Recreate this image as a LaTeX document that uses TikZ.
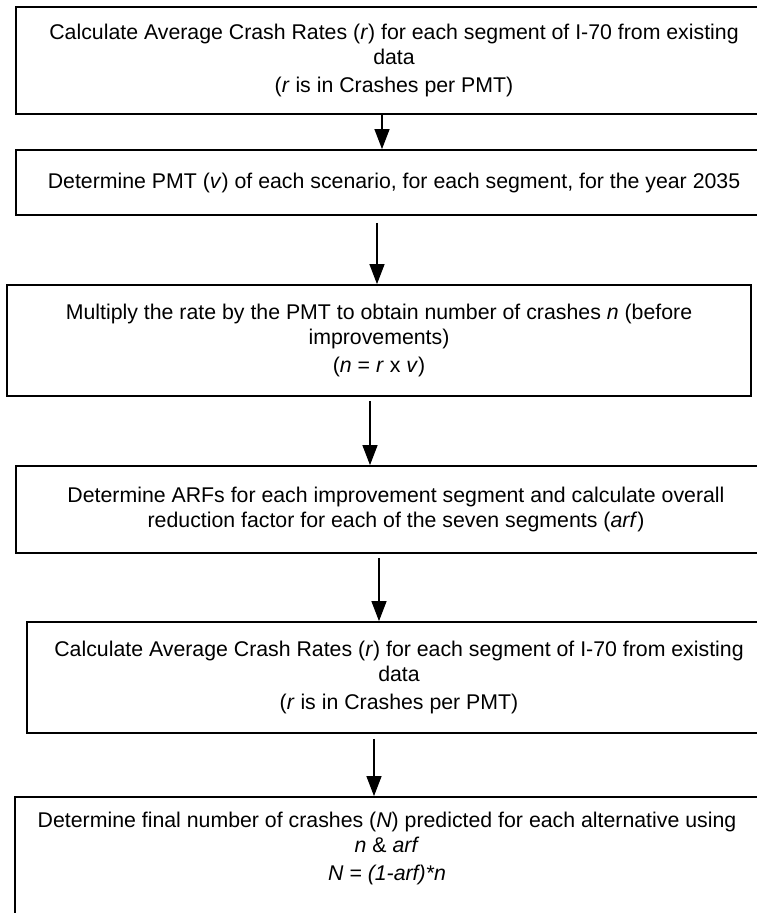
\documentclass[tikz,border=0pt]{standalone}
\usepackage{fontspec}
\setmainfont{Liberation Sans}
\usetikzlibrary{arrows.meta}
\begin{document}
\begin{tikzpicture}[x=1pt,y=-1pt,
  stepbox/.style={draw,line width=1.8pt,rectangle,inner sep=0pt,align=center,
    font=\fontsize{21.3}{25}\selectfont},
  steptext/.style={inner sep=0pt,align=center,font=\fontsize{21.3}{25}\selectfont},
  flow/.style={line width=1.3pt,-{Triangle[length=20pt,width=15pt]}}]
\useasboundingbox (0,0) rectangle (757,913);

% process boxes (most run past the right margin)
\node[stepbox, minimum width=756pt, minimum height=107pt] (b1) at (394,60.5)
  {Calculate Average Crash Rates (\textit{r}) for each segment of I-70 from existing\\
   data\\[3pt] (\textit{r} is in Crashes per PMT)};
\node[stepbox, minimum width=756pt, minimum height=65pt] (b2) at (394,182.5)
  {Determine PMT (\textit{v}) of each scenario, for each segment, for the year 2035};
\node[stepbox, minimum width=744pt, minimum height=111pt] (b3) at (379,340.5)
  {Multiply the rate by the PMT to obtain number of crashes \textit{n} (before\\
   improvements)\\[3pt] (\textit{n} = \textit{r} x \textit{v})};
\node[stepbox, minimum width=760pt, minimum height=87pt] (b4) at (396,509.5)
  {Determine ARFs for each improvement segment and calculate overall\\
   reduction factor for each of the seven segments (\textit{arf})};
\node[stepbox, minimum width=744pt, minimum height=111pt] (b5) at (399,677.5)
  {Calculate Average Crash Rates (\textit{r}) for each segment of I-70 from existing\\
   data\\[3pt] (\textit{r} is in Crashes per PMT)};
\node[draw, line width=1.8pt, minimum width=744pt, minimum height=117pt] (b6) at (387,855.5) {};
\node[steptext] (b6t) at (387,848)
  {Determine final number of crashes (\textit{N}) predicted for each alternative using\\
   \textit{n} \& \textit{arf}\\[3pt] \textit{N = (1-arf)*n}};

% connector columns
\coordinate (c1) at (382,0);
\coordinate (c2) at (377,0);
\coordinate (c3) at (370,0);
\coordinate (c4) at (379,0);
\coordinate (c5) at (374,0);

\draw[flow] (b1.south -| c1) -- (b2.north -| c1);
\draw[flow, shorten <=7pt] (b2.south -| c2) -- (b3.north -| c2);
\draw[flow, shorten <=4pt] (b3.south -| c3) -- (b4.north -| c3);
\draw[flow, shorten <=4pt] (b4.south -| c4) -- (b5.north -| c4);
\draw[flow, shorten <=5pt] (b5.south -| c5) -- (b6.north -| c5);
\end{tikzpicture}
\end{document}
